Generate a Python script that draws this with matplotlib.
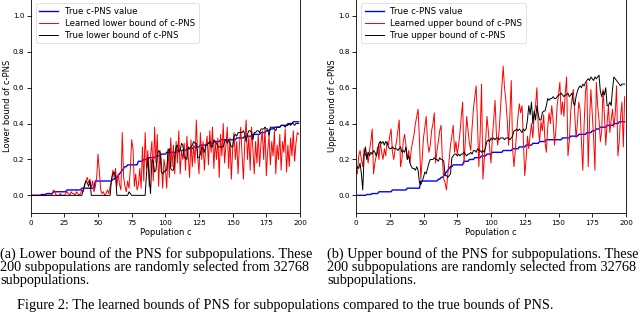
import numpy as np
import matplotlib
matplotlib.use('Agg')
import matplotlib.pyplot as plt

# population index on the x axis
population = np.arange(200)

# true c-PNS value (sorted), shared by both panels
true_pns = [
    0.0, 0.0, 0.0, 0.0, 0.0, 0.0, 0.0, 0.0, 0.005, 0.005, 0.005, 0.005, 0.01, 0.01, 0.01, 0.01, 0.01, 0.02, 0.02, 0.02,
    0.02, 0.02, 0.02, 0.02, 0.02, 0.02, 0.02, 0.03, 0.03, 0.03, 0.03, 0.03, 0.03, 0.03, 0.03, 0.03, 0.03, 0.03, 0.04, 0.04,
    0.04, 0.04, 0.04, 0.04, 0.04, 0.04, 0.04, 0.04, 0.08, 0.08, 0.08, 0.08, 0.08, 0.08, 0.08, 0.08, 0.08, 0.08, 0.08, 0.08,
    0.08, 0.09, 0.09, 0.10, 0.10, 0.11, 0.12, 0.13, 0.14, 0.15, 0.16, 0.16, 0.17, 0.17, 0.17, 0.17, 0.17, 0.17, 0.17, 0.17,
    0.19, 0.19, 0.19, 0.19, 0.20, 0.20, 0.20, 0.20, 0.21, 0.21, 0.21, 0.21, 0.21, 0.22, 0.22, 0.22, 0.22, 0.23, 0.23, 0.23,
    0.23, 0.24, 0.24, 0.24, 0.24, 0.24, 0.24, 0.24, 0.24, 0.25, 0.25, 0.25, 0.25, 0.25, 0.25, 0.25, 0.26, 0.26, 0.26, 0.26,
    0.26, 0.27, 0.27, 0.27, 0.27, 0.27, 0.28, 0.28, 0.28, 0.28, 0.28, 0.29, 0.29, 0.29, 0.29, 0.29, 0.30, 0.30, 0.30, 0.30,
    0.30, 0.31, 0.31, 0.31, 0.31, 0.31, 0.31, 0.31, 0.31, 0.31, 0.31, 0.31, 0.31, 0.32, 0.32, 0.32, 0.32, 0.32, 0.32, 0.33,
    0.33, 0.33, 0.33, 0.33, 0.33, 0.34, 0.34, 0.34, 0.34, 0.34, 0.34, 0.35, 0.35, 0.35, 0.35, 0.36, 0.36, 0.36, 0.37, 0.37,
    0.37, 0.38, 0.38, 0.38, 0.38, 0.38, 0.39, 0.39, 0.39, 0.39, 0.39, 0.40, 0.40, 0.40, 0.40, 0.41, 0.41, 0.41, 0.41, 0.41,
]

# panel (a): learned / true lower bound
learned_lower = [
    0.0, 0.0, 0.0, 0.0, 0.0, 0.0, 0.0, 0.0, 0.0, 0.0, 0.0, 0.0, 0.0, 0.0, 0.0, 0.0, 0.01, 0.03, 0.02, 0.0,
    0.0, 0.0, 0.01, 0.0, 0.0, 0.0, 0.01, 0.02, 0.01, 0.0, 0.02, 0.01, 0.01, 0.0, 0.02, 0.01, 0.0, 0.01, 0.03, 0.02,
    0.05, 0.08, 0.10, 0.07, 0.09, 0.04, 0.08, 0.02, 0.05, 0.10, 0.23, 0.13, 0.03, 0.01, 0.02, 0.0, 0.01, 0.03, 0.01, 0.05,
    0.08, 0.14, 0.10, 0.15, 0.05, 0.12, 0.06, 0.03, 0.35, 0.10, 0.05, 0.02, 0.08, 0.04, 0.15, 0.31, 0.26, 0.05, 0.12, 0.03,
    0.06, 0.15, 0.04, 0.27, 0.08, 0.35, 0.15, 0.25, 0.05, 0.22, 0.30, 0.08, 0.38, 0.18, 0.34, 0.05, 0.25, 0.20, 0.04, 0.20,
    0.15, 0.04, 0.26, 0.10, 0.32, 0.16, 0.28, 0.12, 0.30, 0.18, 0.36, 0.12, 0.25, 0.20, 0.29, 0.14, 0.33, 0.22, 0.10, 0.31,
    0.16, 0.28, 0.18, 0.42, 0.22, 0.12, 0.35, 0.20, 0.30, 0.14, 0.27, 0.33, 0.17, 0.36, 0.24, 0.38, 0.15, 0.30, 0.20, 0.32,
    0.10, 0.34, 0.22, 0.40, 0.18, 0.28, 0.38, 0.15, 0.32, 0.09, 0.26, 0.35, 0.20, 0.30, 0.12, 0.28, 0.38, 0.22, 0.09, 0.30,
    0.42, 0.20, 0.33, 0.14, 0.38, 0.26, 0.12, 0.30, 0.18, 0.34, 0.16, 0.29, 0.36, 0.20, 0.38, 0.11, 0.25, 0.33, 0.17, 0.30,
    0.22, 0.36, 0.12, 0.28, 0.20, 0.34, 0.14, 0.30, 0.24, 0.37, 0.13, 0.28, 0.16, 0.32, 0.22, 0.36, 0.19, 0.29, 0.35, 0.34,
]
true_lower = [
    0.0, 0.0, 0.0, 0.0, 0.0, 0.0, 0.0, 0.0, 0.0, 0.0, 0.0, 0.0, 0.0, 0.0, 0.0, 0.0, 0.0, 0.0, 0.0, 0.0,
    0.0, 0.0, 0.0, 0.0, 0.0, 0.0, 0.0, 0.0, 0.0, 0.0, 0.0, 0.0, 0.0, 0.0, 0.0, 0.0, 0.0, 0.0, 0.0, 0.03,
    0.06, 0.08, 0.07, 0.05, 0.08, 0.0, 0.0, 0.0, 0.0, 0.0, 0.0, 0.0, 0.0, 0.0, 0.0, 0.0, 0.0, 0.0, 0.0, 0.0,
    0.09, 0.12, 0.13, 0.11, 0.0, 0.0, 0.0, 0.0, 0.0, 0.0, 0.0, 0.0, 0.0, 0.02, 0.01, 0.0, 0.0, 0.0, 0.0, 0.0,
    0.0, 0.0, 0.0, 0.0, 0.0, 0.0, 0.12, 0.21, 0.10, 0.01, 0.20, 0.19, 0.13, 0.14, 0.22, 0.25, 0.24, 0.13, 0.12, 0.13,
    0.14, 0.14, 0.25, 0.26, 0.15, 0.14, 0.14, 0.22, 0.27, 0.28, 0.24, 0.25, 0.29, 0.28, 0.21, 0.21, 0.20, 0.27, 0.26, 0.27,
    0.28, 0.30, 0.29, 0.29, 0.21, 0.21, 0.23, 0.27, 0.26, 0.24, 0.28, 0.28, 0.29, 0.30, 0.27, 0.27, 0.31, 0.30, 0.29, 0.27,
    0.27, 0.27, 0.27, 0.27, 0.30, 0.31, 0.29, 0.31, 0.29, 0.27, 0.27, 0.33, 0.34, 0.33, 0.35, 0.35, 0.35, 0.35, 0.36, 0.34,
    0.30, 0.34, 0.36, 0.36, 0.35, 0.31, 0.35, 0.35, 0.36, 0.36, 0.35, 0.37, 0.37, 0.37, 0.38, 0.37, 0.37, 0.33, 0.38, 0.38,
    0.38, 0.37, 0.36, 0.38, 0.38, 0.38, 0.39, 0.39, 0.39, 0.38, 0.39, 0.39, 0.40, 0.39, 0.40, 0.40, 0.39, 0.40, 0.40, 0.40,
]

# panel (b): learned / true upper bound
learned_upper = [
    0.13, 0.12, 0.22, 0.25, 0.20, 0.16, 0.26, 0.22, 0.24, 0.18, 0.25, 0.30, 0.37, 0.12, 0.18, 0.22, 0.27, 0.20, 0.30, 0.24,
    0.20, 0.26, 0.22, 0.30, 0.28, 0.33, 0.37, 0.24, 0.20, 0.26, 0.30, 0.36, 0.42, 0.16, 0.20, 0.30, 0.34, 0.28, 0.20, 0.25,
    0.18, 0.26, 0.30, 0.34, 0.40, 0.44, 0.48, 0.31, 0.09, 0.20, 0.32, 0.38, 0.44, 0.30, 0.24, 0.28, 0.36, 0.40, 0.46, 0.18,
    0.25, 0.30, 0.36, 0.39, 0.20, 0.09, 0.07, 0.03, 0.12, 0.20, 0.28, 0.33, 0.39, 0.24, 0.30, 0.23, 0.28, 0.35, 0.44, 0.52,
    0.18, 0.30, 0.44, 0.36, 0.29, 0.25, 0.38, 0.48, 0.55, 0.61, 0.40, 0.16, 0.35, 0.62, 0.09, 0.20, 0.30, 0.44, 0.36, 0.26,
    0.18, 0.32, 0.42, 0.53, 0.34, 0.28, 0.36, 0.48, 0.60, 0.72, 0.60, 0.53, 0.42, 0.28, 0.45, 0.64, 0.26, 0.16, 0.25, 0.35,
    0.44, 0.51, 0.46, 0.50, 0.30, 0.11, 0.20, 0.33, 0.26, 0.34, 0.40, 0.32, 0.45, 0.50, 0.60, 0.38, 0.30, 0.41, 0.36, 0.45,
    0.30, 0.24, 0.38, 0.46, 0.40, 0.50, 0.42, 0.28, 0.36, 0.50, 0.56, 0.63, 0.45, 0.52, 0.44, 0.57, 0.66, 0.22, 0.30, 0.46,
    0.54, 0.59, 0.45, 0.32, 0.40, 0.52, 0.48, 0.30, 0.14, 0.40, 0.58, 0.63, 0.16, 0.42, 0.59, 0.45, 0.32, 0.14, 0.63, 0.50,
    0.42, 0.30, 0.36, 0.59, 0.45, 0.28, 0.40, 0.50, 0.35, 0.42, 0.48, 0.38, 0.45, 0.61, 0.22, 0.30, 0.44, 0.52, 0.27, 0.55,
]
true_upper = [
    0.14, 0.16, 0.15, 0.18, 0.12, 0.03, 0.22, 0.27, 0.20, 0.24, 0.22, 0.24, 0.23, 0.25, 0.24, 0.22, 0.24, 0.29, 0.30, 0.29,
    0.30, 0.28, 0.30, 0.29, 0.27, 0.26, 0.26, 0.27, 0.26, 0.26, 0.26, 0.25, 0.26, 0.27, 0.24, 0.25, 0.24, 0.27, 0.20, 0.22,
    0.18, 0.16, 0.15, 0.15, 0.14, 0.16, 0.14, 0.07, 0.06, 0.08, 0.10, 0.13, 0.12, 0.15, 0.18, 0.20, 0.20, 0.20, 0.21, 0.20,
    0.20, 0.19, 0.21, 0.20, 0.20, 0.19, 0.11, 0.11, 0.10, 0.11, 0.12, 0.21, 0.22, 0.23, 0.23, 0.22, 0.23, 0.22, 0.23, 0.23,
    0.24, 0.23, 0.22, 0.23, 0.23, 0.24, 0.23, 0.25, 0.25, 0.24, 0.26, 0.25, 0.25, 0.24, 0.25, 0.24, 0.27, 0.30, 0.31, 0.30,
    0.32, 0.31, 0.32, 0.31, 0.32, 0.32, 0.31, 0.32, 0.32, 0.32, 0.31, 0.32, 0.32, 0.32, 0.31, 0.32, 0.33, 0.36, 0.36, 0.37,
    0.36, 0.37, 0.36, 0.35, 0.37, 0.36, 0.37, 0.42, 0.50, 0.45, 0.52, 0.40, 0.47, 0.42, 0.50, 0.45, 0.42, 0.42, 0.46, 0.47,
    0.47, 0.50, 0.54, 0.53, 0.54, 0.54, 0.55, 0.54, 0.54, 0.55, 0.56, 0.56, 0.57, 0.56, 0.55, 0.56, 0.56, 0.57, 0.55, 0.56,
    0.57, 0.52, 0.50, 0.55, 0.58, 0.60, 0.61, 0.60, 0.62, 0.61, 0.63, 0.64, 0.65, 0.64, 0.66, 0.65, 0.64, 0.66, 0.65, 0.66,
    0.67, 0.58, 0.55, 0.58, 0.56, 0.60, 0.50, 0.50, 0.52, 0.50, 0.59, 0.66, 0.65, 0.64, 0.63, 0.62, 0.61, 0.62, 0.62, 0.62,
]

panels = [
    ('Lower bound of c-PNS', learned_lower, true_lower,
     'Learned lower bound of c-PNS', 'True lower bound of c-PNS'),
    ('Upper bound of c-PNS', learned_upper, true_upper,
     'Learned upper bound of c-PNS', 'True upper bound of c-PNS'),
]
captions = [
    ['(a) Lower bound of the PNS for subpopulations. These',
     '200 subpopulations are randomly selected from 32768',
     'subpopulations.'],
    ['(b) Upper bound of the PNS for subpopulations. These',
     '200 subpopulations are randomly selected from 32768',
     'subpopulations.'],
]

W, H = 640, 314
fig = plt.figure(figsize=(W / 100, H / 100), dpi=100)

axes_px = [(30.7, 300), (356, 626)]  # left/right edges in pixels
for (x0, x1), (ylab, learned, true_b, lab_l, lab_t) in zip(axes_px, panels):
    ax = fig.add_axes([x0 / W, 1 - 213.3 / H, (x1 - x0) / W, (213.3 + 2) / H])
    ax.plot(population, true_pns, color='blue', lw=1.0, label='True c-PNS value')
    ax.plot(population, learned, color='red', lw=0.7, label=lab_l)
    ax.plot(population, true_b, color='black', lw=0.7, label=lab_t)
    ax.set_xlim(0, 200)
    ax.set_ylim(-0.1, 1.1)
    ax.set_yticks([0.0, 0.2, 0.4, 0.6, 0.8, 1.0])
    ax.set_xticks([0, 25, 50, 75, 100, 125, 150, 175, 200])
    ax.tick_params(labelsize=5.2, length=3, width=0.6, pad=1.5)
    for s in ax.spines.values():
        s.set_linewidth(0.6)
    ax.set_xlabel('Population c', fontsize=6, labelpad=2)
    ax.set_ylabel(ylab, fontsize=6, labelpad=1)
    leg = ax.legend(loc='upper left', fontsize=6.2, frameon=True, handlelength=2.2,
                    borderaxespad=0.6, labelspacing=0.35)
    leg.get_frame().set_linewidth(0.5)

serif = ['Liberation Serif', 'DejaVu Serif']
for cx, lines in zip([0, 327], captions):
    for i, line in enumerate(lines):
        fig.text(cx / W, 1 - (258 + i * 13.2) / H, line, fontsize=10.3,
                 family=serif, ha='left', va='baseline')

fig.text(17 / W, 1 - 309.5 / H,
         'Figure 2: The learned bounds of PNS for subpopulations compared to the true bounds of PNS.',
         fontsize=10.3, family=serif, ha='left', va='baseline')

fig.savefig('out.png', dpi=100)
